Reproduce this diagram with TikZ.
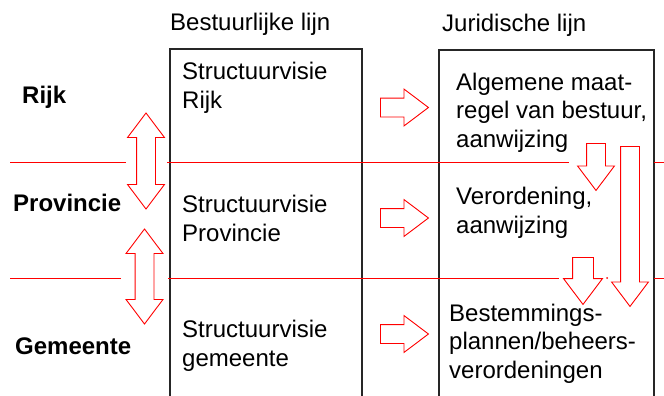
\documentclass[tikz,border=0pt]{standalone}
\usepackage{fontspec}
\setmainfont{Liberation Sans}
\usetikzlibrary{shapes.arrows}
\begin{document}
\begin{tikzpicture}[x=1pt,y=-1pt,
  txt/.style={anchor=base west,inner sep=0pt,align=left,font=\fontsize{24}{28.3}\selectfont},
  lvl/.style={txt,font=\fontsize{24}{28}\selectfont\bfseries},
  rline/.style={red,line width=1pt},
  kader/.style={black!85,line width=1.3pt},
  pijl/.style={single arrow,draw=red,fill=white,line width=0.9pt,inner xsep=0pt,inner ysep=9pt,text height=0pt,text depth=0pt,single arrow head extend=9pt,single arrow tip angle=74,minimum height=#1,anchor=tail},
  dubbel/.style={double arrow,draw=red,fill=white,line width=0.9pt,inner xsep=0pt,inner ysep=9pt,text height=0pt,text depth=0pt,double arrow head extend=9pt,double arrow tip angle=74,minimum height=#1,rotate=90}]
\useasboundingbox (0,0) rectangle (664,396);
\draw[kader] (170,396) |- (362,49) -- (362,396);
\draw[kader] (439,396) |- (654,50) -- (654,396);
\draw[rline] (10,162) -- (126,162) (167,162) -- (569,162) (654,162) -- (664,162);
\draw[rline] (10,278) -- (121,278) (168,278) -- (559,278) (654,278) -- (664,278);
\fill[red] (607,278) circle (1pt);
\node[txt] (bestuur) at (170,31) {Bestuurlijke lijn};
\node[txt] (juri) at (442,32) {Juridische lijn};
\node[lvl] (rijk) at (22,103) {Rijk};
\node[lvl] (prov) at (13,211) {Provincie};
\node[lvl] (gem) at (15,354) {Gemeente};
\node[txt] (svr) at (182,108) {Structuurvisie\\Rijk};
\node[txt] (svp) at (182,241) {Structuurvisie\\Provincie};
\node[txt] (svg) at (182,366) {Structuurvisie\\gemeente};
\node[txt] (amvb) at (456,147) {Algemene maat-\\regel van bestuur,\\aanwijzing};
\node[txt] (verord) at (456,233) {Verordening,\\aanwijzing};
\node[txt] (bp) at (449,378) {Bestemmings-\\plannen/beheers-\\verordeningen};
\node[pijl=48pt] (p1) at (380,107.5) {};
\node[pijl=48pt] (p2) at (380,218) {};
\node[pijl=48pt] (p3) at (380,334) {};
\node[pijl=47pt,rotate=-90] (pa) at (596,143) {};
\node[pijl=160pt,rotate=-90] (pb) at (630,146) {};
\node[pijl=47pt,rotate=-90,inner ysep=10pt] (pc) at (583,257) {};
\node[dubbel=96pt] (d1) at (146,161) {};
\node[dubbel=95pt] (d2) at (144.5,276.5) {};
\end{tikzpicture}
\end{document}
